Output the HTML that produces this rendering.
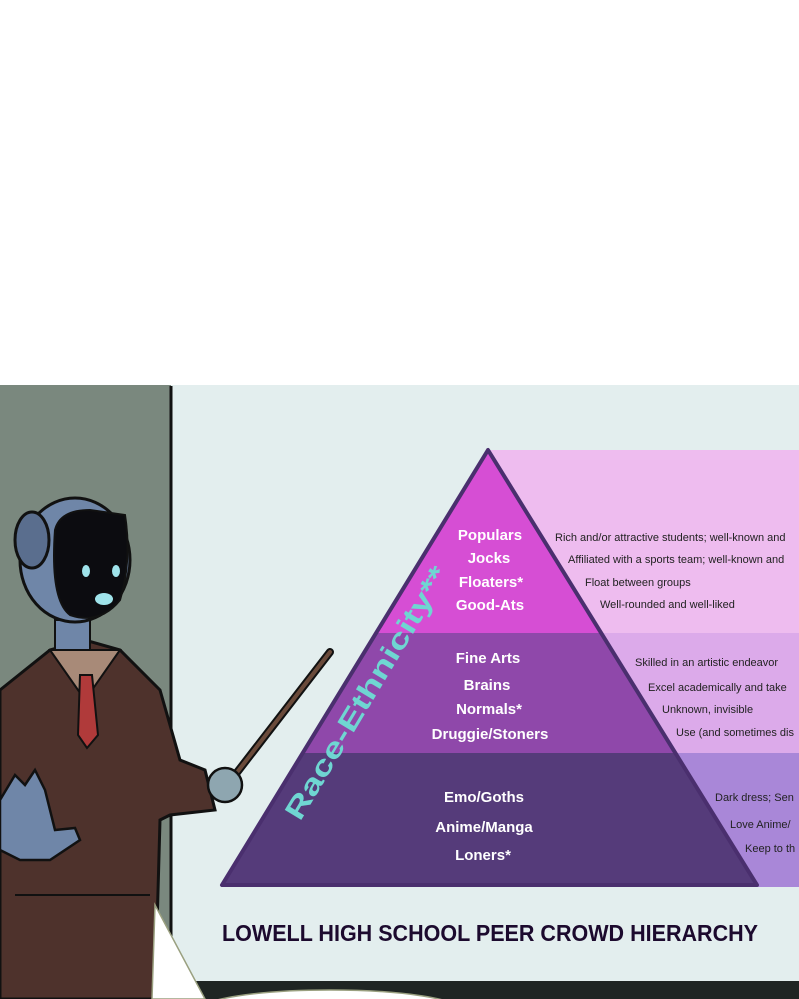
<!DOCTYPE html>
<html><head><meta charset="utf-8"><style>
html,body{margin:0;padding:0;background:#fff;}
svg{display:block;}
text{font-family:"Liberation Sans",sans-serif;}
</style></head><body>
<svg width="799" height="999" viewBox="0 0 799 999" xmlns="http://www.w3.org/2000/svg">
<rect x="0" y="0" width="799" height="999" fill="#fff"/>
<rect x="0" y="385" width="799" height="614" fill="#e3eeee"/>
<rect x="0" y="385" width="171" height="614" fill="#7a887e"/>
<line x1="171" y1="386" x2="171" y2="985" stroke="#111" stroke-width="3"/>
<rect x="490" y="450" width="309" height="183" fill="#eebcef"/>
<rect x="560" y="633" width="239" height="120" fill="#dcaaea"/>
<rect x="600" y="753" width="199" height="134" fill="#a987d8"/>
<clipPath id="tri"><polygon points="488,450 222,885 757,885"/></clipPath>
<g clip-path="url(#tri)">
<rect x="200" y="440" width="600" height="193" fill="#d64ed4"/>
<rect x="200" y="633" width="600" height="120" fill="#8f48aa"/>
<rect x="200" y="753" width="600" height="140" fill="#553b7a"/>
</g>
<polygon points="488,450 222,885 757,885" fill="none" stroke="#4a2f6e" stroke-width="4" stroke-linejoin="round"/>
<g fill="#fff" font-weight="bold" font-size="15" text-anchor="middle">
<text x="490" y="540">Populars</text>
<text x="489" y="563">Jocks</text>
<text x="491" y="587">Floaters*</text>
<text x="490" y="610">Good-Ats</text>
<text x="488" y="663">Fine Arts</text>
<text x="487" y="690">Brains</text>
<text x="489" y="714">Normals*</text>
<text x="490" y="739">Druggie/Stoners</text>
<text x="484" y="802">Emo/Goths</text>
<text x="484" y="832">Anime/Manga</text>
<text x="483" y="860">Loners*</text>
</g>
<g fill="#222" font-size="11">
<text x="555" y="541">Rich and/or attractive students; well-known and</text>
<text x="568" y="563">Affiliated with a sports team; well-known and</text>
<text x="585" y="586">Float between groups</text>
<text x="600" y="608">Well-rounded and well-liked</text>
<text x="635" y="666">Skilled in an artistic endeavor</text>
<text x="648" y="691">Excel academically and take</text>
<text x="662" y="713">Unknown, invisible</text>
<text x="676" y="736">Use (and sometimes dis</text>
<text x="715" y="801">Dark dress; Sen</text>
<text x="730" y="828">Love Anime/</text>
<text x="745" y="852">Keep to th</text>
</g>
<text x="0" y="0" transform="translate(300,822) rotate(-59)" fill="#6fd6d2" font-size="28" font-weight="bold" textLength="290" lengthAdjust="spacingAndGlyphs">Race-Ethnicity**</text>
<text x="222" y="941" fill="#1c0a2e" font-size="23" font-weight="bold" textLength="536" lengthAdjust="spacingAndGlyphs">LOWELL HIGH SCHOOL PEER CROWD HIERARCHY</text>
<rect x="150" y="981" width="649" height="18" fill="#1f2523"/>
<line x1="235" y1="775" x2="330" y2="652" stroke="#111" stroke-width="8" stroke-linecap="round"/>
<line x1="235" y1="775" x2="330" y2="652" stroke="#6a4a3a" stroke-width="4" stroke-linecap="round"/>
<path d="M0,690 L50,650 L85,640 L120,650 L160,690 L180,760 L205,770 L215,810 L170,815 L160,820 L155,999 L0,999 Z" fill="#4e322c" stroke="#111" stroke-width="3"/>
<path d="M50,650 L85,700 L120,650 Z" fill="#a88a78" stroke="#111" stroke-width="2"/>
<path d="M80,675 L92,675 L98,735 L87,748 L78,735 Z" fill="#b03a3a" stroke="#111" stroke-width="2"/>
<line x1="15" y1="895" x2="150" y2="895" stroke="#111" stroke-width="2"/>
<rect x="55" y="620" width="35" height="30" fill="#6f86a8" stroke="#111" stroke-width="2"/>
<ellipse cx="75" cy="560" rx="55" ry="62" fill="#6f86a8" stroke="#111" stroke-width="3"/>
<ellipse cx="32" cy="540" rx="17" ry="28" fill="#5a6e8e" stroke="#111" stroke-width="3"/>
<path d="M55,530 Q60,510 90,510 L125,515 Q132,560 120,600 Q100,625 70,615 Q50,600 55,530 Z" fill="#0c0c10" stroke="#111" stroke-width="2"/>
<ellipse cx="86" cy="571" rx="4" ry="6" fill="#9fe3ea"/>
<ellipse cx="116" cy="571" rx="4" ry="6" fill="#9fe3ea"/>
<ellipse cx="104" cy="599" rx="9" ry="6" fill="#9fe3ea"/>
<path d="M0,800 L15,775 L25,785 L35,770 L45,790 L55,830 L75,828 L80,840 L50,860 L20,860 L0,850 Z" fill="#6f86a8" stroke="#111" stroke-width="2.5"/>
<circle cx="225" cy="785" r="17" fill="#8ea6b0" stroke="#111" stroke-width="2.5"/>
<path d="M152,999 L155,905 L205,999 Z" fill="#fff" stroke="#9aa080" stroke-width="1.5"/>
<ellipse cx="330" cy="1010" rx="130" ry="20" fill="#fff" stroke="#9aa080" stroke-width="1.5"/>
</svg>
</body></html>
